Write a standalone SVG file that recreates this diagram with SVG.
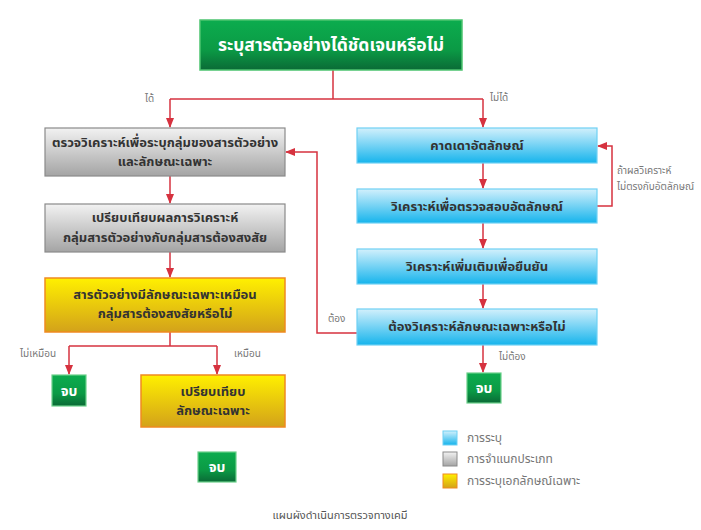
<svg xmlns="http://www.w3.org/2000/svg" width="701" height="530" viewBox="0 0 701 530">
<style>
text{font-family:"Noto Sans Thai","Noto Sans","Liberation Sans",sans-serif}
.bt{font-size:13px;font-weight:bold;fill:#333;text-anchor:middle}
.lb{font-size:10px;fill:#777}
.wt{font-weight:bold;fill:#fff;text-anchor:middle}
.ln{fill:none;stroke:#d6323f;stroke-width:1.5}
.lg{font-size:12px;fill:#777}
</style>
<defs>
<linearGradient id="gG" x1="0" y1="0" x2="0" y2="1"><stop offset="0" stop-color="#0cac4e"/><stop offset="0.6" stop-color="#0b9a45"/><stop offset="1" stop-color="#0a6a36"/></linearGradient>
<linearGradient id="gB" x1="0" y1="0" x2="0" y2="1"><stop offset="0" stop-color="#d2f0fc"/><stop offset="1" stop-color="#16b4ec"/></linearGradient>
<linearGradient id="gS" x1="0" y1="0" x2="0" y2="1"><stop offset="0" stop-color="#f2f2f2"/><stop offset="1" stop-color="#a4a4a4"/></linearGradient>
<linearGradient id="gY" x1="0" y1="0" x2="0" y2="1"><stop offset="0" stop-color="#fff000"/><stop offset="1" stop-color="#d3a21a"/></linearGradient>
<marker id="ar" markerWidth="10" markerHeight="8" refX="9" refY="4" orient="auto" markerUnits="userSpaceOnUse"><path d="M0,0 L10,4 L0,8 Z" fill="#d6323f"/></marker>
</defs>
<rect width="701" height="530" fill="#fff"/>

<g id="connectors">
<path class="ln" d="M333,70 V99"/>
<path class="ln" d="M170,99 H483"/>
<path class="ln" d="M170,99 V127" marker-end="url(#ar)"/>
<path class="ln" d="M483,99 V127" marker-end="url(#ar)"/>
<path class="ln" d="M170,176 V203" marker-end="url(#ar)"/>
<path class="ln" d="M170,252 V277" marker-end="url(#ar)"/>
<path class="ln" d="M170,332 V346"/>
<path class="ln" d="M69,346 H217"/>
<path class="ln" d="M69,346 V374" marker-end="url(#ar)"/>
<path class="ln" d="M217,346 V374" marker-end="url(#ar)"/>
<path class="ln" d="M483,163 V188" marker-end="url(#ar)"/>
<path class="ln" d="M483,223 V248" marker-end="url(#ar)"/>
<path class="ln" d="M483,284 V308" marker-end="url(#ar)"/>
<path class="ln" d="M483,345 V372" marker-end="url(#ar)"/>
<path class="ln" d="M597,206 H612 V146 H598" marker-end="url(#ar)"/>
<path class="ln" d="M357,333 H317 V152 H286" marker-end="url(#ar)"/>
<text class="lb" x="145" y="102">ได้</text>
<text class="lb" x="490" y="101">ไม่ได้</text>
<text class="lb" x="617" y="174" font-size="9.5">ถ้าผลวิเคราะห์</text>
<text class="lb" x="617" y="190" font-size="9.5">ไม่ตรงกับอัตลักษณ์</text>
<text class="lb" x="328" y="322">ต้อง</text>
<text class="lb" x="20" y="357">ไม่เหมือน</text>
<text class="lb" x="234" y="357">เหมือน</text>
<text class="lb" x="499" y="360">ไม่ต้อง</text>
</g>

<g id="n-title"><rect x="200" y="20" width="262" height="50" fill="url(#gG)" stroke="#4cc36f" stroke-width="1.5"/><text class="wt" x="331" y="51" font-size="17.5">ระบุสารตัวอย่างได้ชัดเจนหรือไม่</text></g>

<g id="n-l1"><rect x="45" y="128" width="240" height="48" fill="url(#gS)" stroke="#8a8a8a" stroke-width="1.2"/><text class="bt" x="165" y="147">ตรวจวิเคราะห์เพื่อระบุกลุ่มของสารตัวอย่าง</text><text class="bt" x="165" y="166">และลักษณะเฉพาะ</text></g>
<g id="n-l2"><rect x="45" y="204" width="240" height="48" fill="url(#gS)" stroke="#8a8a8a" stroke-width="1.2"/><text class="bt" x="165" y="222">เปรียบเทียบผลการวิเคราะห์</text><text class="bt" x="165" y="242">กลุ่มสารตัวอย่างกับกลุ่มสารต้องสงสัย</text></g>
<g id="n-l3"><rect x="45" y="278" width="240" height="54" fill="url(#gY)" stroke="#ef8a20" stroke-width="1.5"/><text class="bt" x="165" y="299">สารตัวอย่างมีลักษณะเฉพาะเหมือน</text><text class="bt" x="165" y="318">กลุ่มสารต้องสงสัยหรือไม่</text></g>
<g id="n-end1"><rect x="52" y="375" width="34" height="31" fill="url(#gG)" stroke="#6cd08a" stroke-width="1.2"/><text class="wt" x="69" y="396" font-size="14">จบ</text></g>
<g id="n-l4"><rect x="141" y="375" width="144" height="52" fill="url(#gY)" stroke="#ef8a20" stroke-width="1.5"/><text class="bt" x="213" y="396">เปรียบเทียบ</text><text class="bt" x="213" y="415">ลักษณะเฉพาะ</text></g>
<g id="n-end2"><rect x="198" y="452" width="38" height="30" fill="url(#gG)" stroke="#6cd08a" stroke-width="1.2"/><text class="wt" x="217" y="472" font-size="14">จบ</text></g>

<g id="n-r1"><rect x="357" y="128" width="240" height="35" fill="url(#gB)" stroke="#6fd0f4" stroke-width="1.2"/><text class="bt" x="477" y="150">คาดเดาอัตลักษณ์</text></g>
<g id="n-r2"><rect x="357" y="189" width="240" height="34" fill="url(#gB)" stroke="#6fd0f4" stroke-width="1.2"/><text class="bt" x="477" y="211">วิเคราะห์เพื่อตรวจสอบอัตลักษณ์</text></g>
<g id="n-r3"><rect x="357" y="249" width="240" height="35" fill="url(#gB)" stroke="#6fd0f4" stroke-width="1.2"/><text class="bt" x="477" y="271">วิเคราะห์เพิ่มเติมเพื่อยืนยัน</text></g>
<g id="n-r4"><rect x="357" y="309" width="240" height="36" fill="url(#gB)" stroke="#6fd0f4" stroke-width="1.2"/><text class="bt" x="477" y="331">ต้องวิเคราะห์ลักษณะเฉพาะหรือไม่</text></g>
<g id="n-end3"><rect x="467" y="373" width="34" height="30" fill="url(#gG)" stroke="#6cd08a" stroke-width="1.2"/><text class="wt" x="484" y="393" font-size="14">จบ</text></g>

<g id="legend">
<rect x="443" y="431" width="14" height="14" fill="url(#gB)" stroke="#6fd0f4"/><text class="lg" x="467" y="442">การระบุ</text>
<rect x="443" y="452" width="14" height="14" fill="url(#gS)" stroke="#8a8a8a"/><text class="lg" x="467" y="463">การจำแนกประเภท</text>
<rect x="443" y="474" width="14" height="14" fill="url(#gY)" stroke="#ef8a20"/><text class="lg" x="467" y="485">การระบุเอกลักษณ์เฉพาะ</text>
</g>
<text x="340" y="519" font-size="11" fill="#555" text-anchor="middle">แผนผังดำเนินการตรวจทางเคมี</text>
</svg>
